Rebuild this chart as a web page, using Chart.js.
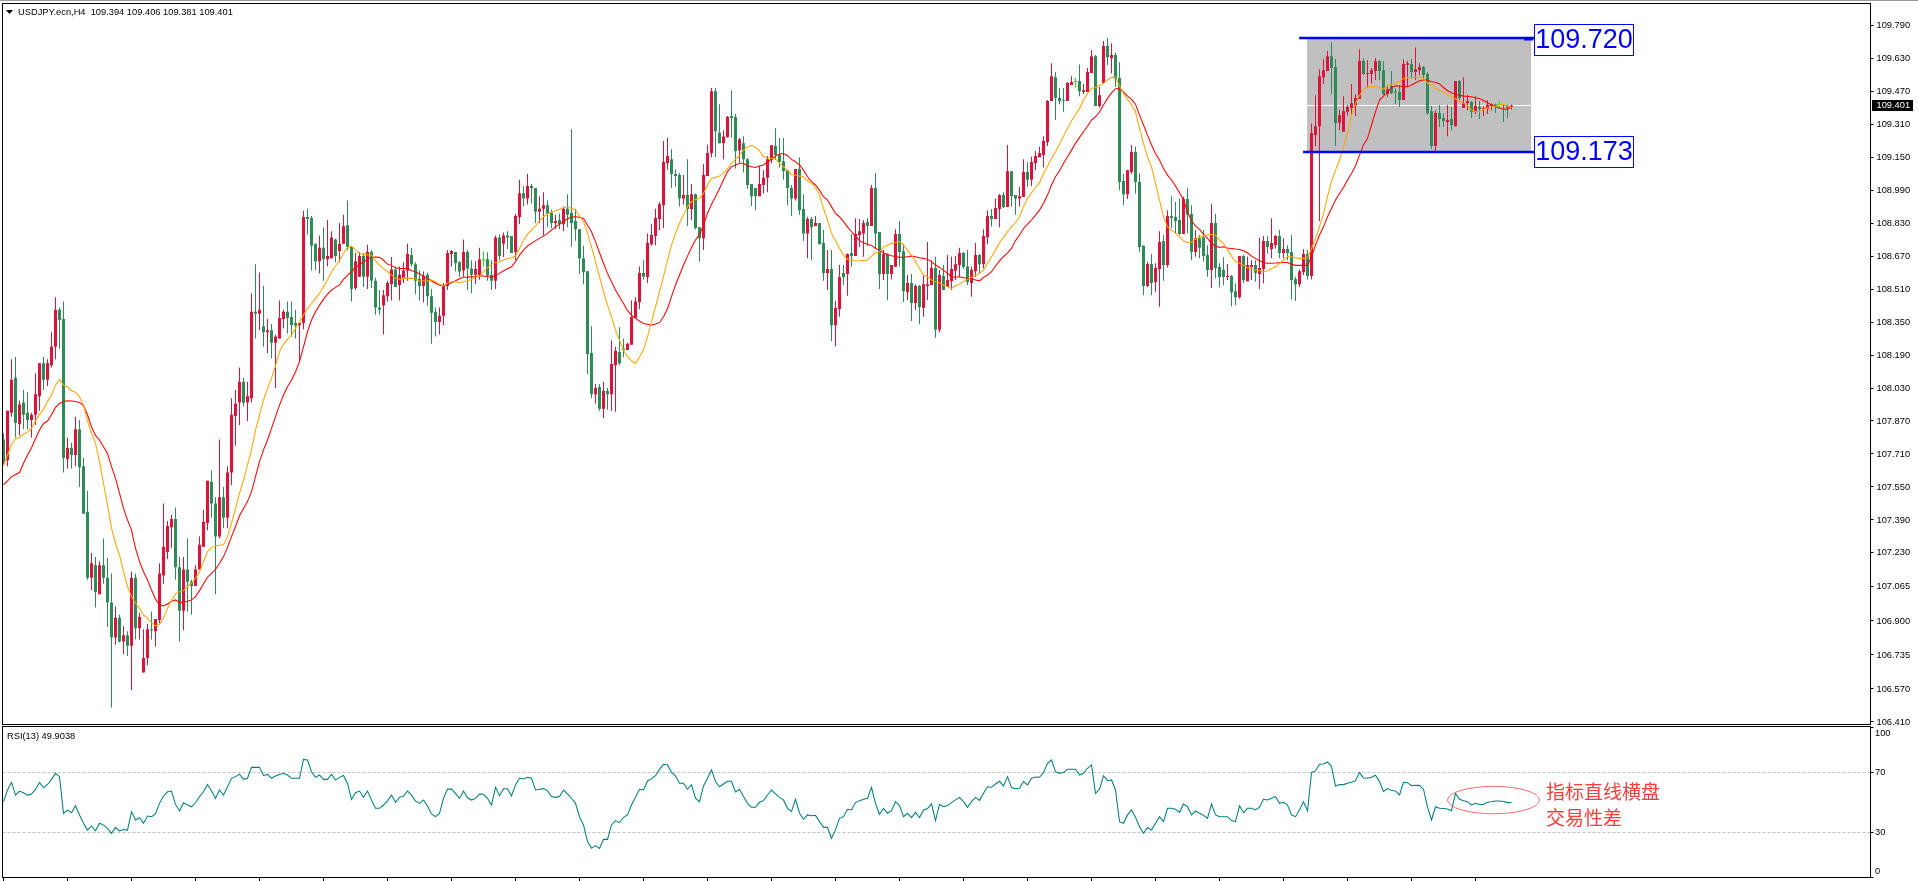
<!DOCTYPE html>
<html>
<head>
<meta charset="utf-8">
<title>USDJPY.ecn,H4</title>
<script src="https://cdn.jsdelivr.net/npm/chart.js@4"></script>
<style>
  html, body { margin: 0; background: #fff; overflow: hidden; }
  canvas { position: absolute; left: 0; }
  #priceChart { top: 0; }
  #rsiChart { top: 726px; }
</style>
</head>
<body>
<canvas id="priceChart" width="1918" height="735"></canvas>
<canvas id="rsiChart" width="1918" height="155"></canvas>
<script>
// values, one entry per H4 bar
const opens = [
107.78,107.68,107.91,108.08,107.855,107.96,107.91,107.875,107.90,107.99,
108.15,108.07,108.14,108.23,108.41,108.365,107.685,107.74,107.705,107.83,
107.65,107.43,107.11,107.17,107.03,107.17,107.11,106.99,106.82,106.915,
106.80,106.83,106.78,107.11,106.865,106.65,106.72,106.86,106.85,106.905,
107.12,107.235,107.355,107.395,107.16,106.95,107.15,107.09,107.07,107.15,
107.26,107.375,107.575,107.47,107.31,107.50,107.40,107.62,107.894,107.96,
108.06,107.96,107.98,108.40,108.39,108.33,108.30,108.31,108.25,108.27,
108.365,108.40,108.375,108.345,108.335,108.345,108.86,108.855,108.73,108.645,
108.71,108.655,108.66,108.75,108.695,108.73,108.82,108.715,108.515,108.57,
108.67,108.57,108.69,108.55,108.42,108.43,108.475,108.535,108.605,108.53,
108.565,108.60,108.675,108.63,108.56,108.525,108.58,108.475,108.40,108.35,
108.38,108.525,108.68,108.69,108.64,108.60,108.69,108.61,108.58,108.58,
108.65,108.655,108.58,108.55,108.76,108.73,108.77,108.767,108.69,108.86,
108.975,108.95,109.01,109.0,108.885,108.90,108.917,108.88,108.83,108.845,
108.825,108.90,108.88,108.84,108.80,108.66,108.597,108.20,108.0,108.035,
107.93,108.015,108.0,108.14,108.205,108.22,108.215,108.24,108.37,108.447,
108.588,108.568,108.728,108.767,108.85,108.917,109.12,109.14,109.068,109.063,
108.95,108.966,108.898,108.97,108.81,108.757,109.058,109.17,109.47,109.27,
109.218,109.247,109.35,109.345,109.185,109.218,109.14,109.02,109.0,108.96,
109.015,109.05,109.136,109.204,109.16,109.13,109.087,109.0,108.95,109.092,
108.898,108.78,108.85,108.816,108.83,108.733,108.588,108.607,108.335,108.413,
108.588,108.583,108.685,108.67,108.772,108.78,108.835,108.816,109.0,108.787,
108.583,108.68,108.583,108.618,108.777,108.694,108.495,108.54,108.442,108.525,
108.418,108.525,108.53,108.612,108.313,108.573,108.52,108.548,108.60,108.627,
108.685,108.62,108.54,108.597,108.675,108.63,108.762,108.864,108.85,108.898,
108.966,108.908,109.082,108.966,108.95,108.957,109.078,109.04,109.12,109.15,
109.16,109.223,109.422,109.538,109.437,109.427,109.422,109.50,109.514,109.519,
109.466,109.466,109.558,109.64,109.398,109.51,109.689,109.63,109.645,109.534,
109.034,108.97,109.078,109.175,109.03,108.72,108.525,108.632,108.544,108.607,
108.743,108.627,108.864,108.86,108.845,108.777,108.947,108.874,108.69,108.757,
108.762,108.675,108.602,108.83,108.617,108.602,108.568,108.573,108.50,108.47,
108.67,108.548,108.617,108.627,108.583,108.607,108.743,108.704,108.723,108.767,
108.685,108.704,108.69,108.558,108.534,108.592,108.68,108.573,109.257,109.30,
109.538,109.568,109.64,109.587,109.317,109.273,109.37,109.388,109.40,109.432,
109.616,109.553,109.553,109.568,109.616,109.572,109.456,109.495,109.466,109.466,
109.427,109.597,109.602,109.563,109.572,109.587,109.553,109.373,109.204,109.364,
109.34,109.32,109.335,109.30,109.519,109.388,109.412,109.417,109.369,109.393,
109.383,109.383,109.398,109.407,109.404,109.404,109.401,109.394];

const highs = [
107.81,107.92,108.17,108.18,107.97,108.02,108.01,107.91,108.10,108.15,
108.18,108.17,108.30,108.47,108.42,108.45,107.79,107.765,107.89,107.875,
107.69,107.53,107.23,107.21,107.19,107.30,107.205,107.13,106.97,106.93,
106.875,106.85,107.14,107.13,106.94,106.86,106.885,106.945,106.91,107.18,
107.47,107.385,107.415,107.45,107.21,107.21,107.30,107.10,107.17,107.31,
107.44,107.58,107.63,107.50,107.78,107.55,107.65,107.98,108.02,108.13,
108.08,108.06,108.49,108.63,108.59,108.525,108.365,108.34,108.29,108.455,
108.41,108.45,108.45,108.41,108.345,108.89,108.90,108.865,108.73,108.77,
108.81,108.845,108.79,108.755,108.83,108.87,108.94,108.715,108.685,108.69,
108.685,108.725,108.70,108.565,108.505,108.505,108.55,108.665,108.62,108.62,
108.64,108.73,108.71,108.64,108.60,108.595,108.59,108.51,108.42,108.42,
108.54,108.70,108.70,108.69,108.645,108.75,108.70,108.65,108.645,108.71,
108.694,108.69,108.65,108.77,108.775,108.785,108.79,108.767,108.875,109.04,
109.01,109.07,109.02,109.0,108.96,108.98,108.94,108.895,108.87,108.877,
108.91,108.97,109.285,108.90,108.80,108.72,108.597,108.33,108.05,108.05,
108.06,108.03,108.26,108.23,108.325,108.27,108.25,108.455,108.47,108.62,
108.65,108.78,108.825,108.90,108.932,109.228,109.243,109.19,109.09,109.073,
109.063,109.14,109.02,108.974,108.81,109.116,109.21,109.485,109.485,109.407,
109.28,109.35,109.475,109.36,109.243,109.252,109.146,109.02,109.0,109.107,
109.087,109.155,109.21,109.29,109.243,109.243,109.087,109.015,109.092,109.15,
108.97,108.86,108.86,108.864,108.83,108.796,108.70,108.70,108.452,108.627,
108.627,108.683,108.777,108.853,108.85,108.845,108.853,109.015,109.073,108.787,
108.70,108.683,108.627,108.80,108.84,108.73,108.578,108.583,108.534,108.53,
108.578,108.738,108.65,108.667,108.602,108.627,108.675,108.667,108.67,108.71,
108.69,108.70,108.62,108.733,108.68,108.80,108.893,108.898,108.95,108.97,
108.98,109.209,109.083,108.966,109.006,109.14,109.125,109.152,109.18,109.20,
109.252,109.427,109.606,109.563,109.485,109.485,109.514,109.543,109.534,109.60,
109.505,109.582,109.67,109.645,109.49,109.713,109.728,109.703,109.656,109.61,
109.068,109.087,109.209,109.20,109.073,108.722,108.643,108.68,108.635,108.79,
108.772,108.893,108.96,108.932,108.95,108.958,109.0,108.917,108.796,108.772,
108.796,108.723,108.922,108.874,108.635,108.664,108.632,108.578,108.538,108.67,
108.675,108.667,108.65,108.65,108.76,108.767,108.767,108.854,108.772,108.796,
108.756,108.723,108.772,108.57,108.605,108.704,108.70,109.313,109.45,109.577,
109.626,109.665,109.708,109.626,109.38,109.446,109.403,109.505,109.456,109.674,
109.63,109.62,109.582,109.63,109.62,109.616,109.50,109.568,109.483,109.50,
109.624,109.616,109.626,109.682,109.605,109.592,109.563,109.398,109.378,109.403,
109.362,109.403,109.393,109.519,109.524,109.538,109.451,109.422,109.446,109.422,
109.398,109.427,109.41,109.41,109.424,109.407,109.403,109.406];

const lows = [
107.66,107.65,107.89,107.79,107.80,107.83,107.83,107.79,107.85,107.92,
108.02,108.04,108.13,108.17,108.22,107.62,107.64,107.64,107.65,107.55,
107.42,107.10,107.05,106.965,107.03,107.08,106.87,106.48,106.785,106.795,
106.74,106.73,106.565,106.81,106.81,106.65,106.685,106.81,106.775,106.89,
107.08,107.20,107.255,107.10,106.80,106.855,106.945,106.93,107.07,107.15,
107.26,107.34,107.40,107.03,107.30,107.35,107.35,107.56,107.75,107.85,
107.94,107.87,107.96,108.27,108.31,108.23,108.20,108.175,108.03,108.27,
108.32,108.295,108.28,108.27,108.155,108.315,108.775,108.60,108.60,108.585,
108.55,108.62,108.66,108.64,108.64,108.73,108.70,108.45,108.505,108.57,
108.52,108.51,108.515,108.385,108.385,108.29,108.45,108.455,108.52,108.455,
108.54,108.55,108.62,108.485,108.455,108.445,108.43,108.245,108.28,108.29,
108.335,108.505,108.62,108.595,108.57,108.57,108.505,108.49,108.535,108.555,
108.62,108.55,108.505,108.51,108.65,108.665,108.705,108.685,108.65,108.825,
108.91,108.92,108.925,108.83,108.83,108.77,108.81,108.805,108.80,108.80,
108.79,108.81,108.715,108.745,108.583,108.534,108.098,107.98,107.955,107.92,
107.885,107.925,107.92,107.915,108.14,108.18,108.215,108.24,108.37,108.413,
108.557,108.54,108.72,108.723,108.796,108.806,109.09,109.0,109.006,108.91,
108.92,108.816,108.845,108.80,108.643,108.70,109.058,109.15,109.15,109.218,
109.14,109.247,109.245,109.095,109.124,109.075,108.997,108.913,108.893,108.96,
108.974,108.98,109.12,109.136,109.10,109.04,108.917,108.864,108.94,108.87,
108.743,108.66,108.65,108.816,108.728,108.55,108.505,108.258,108.233,108.376,
108.53,108.478,108.618,108.67,108.715,108.667,108.72,108.816,108.707,108.51,
108.554,108.457,108.557,108.618,108.62,108.447,108.457,108.355,108.408,108.34,
108.376,108.457,108.53,108.274,108.30,108.505,108.52,108.505,108.554,108.57,
108.607,108.53,108.473,108.57,108.583,108.61,108.728,108.813,108.85,108.81,
108.903,108.908,108.91,108.87,108.91,108.957,109.006,109.01,109.087,109.15,
109.10,109.204,109.422,109.33,109.407,109.37,109.422,109.50,109.488,109.446,
109.456,109.466,109.558,109.398,109.39,109.51,109.597,109.556,109.49,108.99,
108.917,108.947,109.068,108.974,108.69,108.48,108.52,108.48,108.497,108.424,
108.55,108.615,108.806,108.78,108.772,108.777,108.78,108.65,108.667,108.659,
108.643,108.57,108.515,108.562,108.518,108.53,108.554,108.427,108.432,108.463,
108.54,108.548,108.554,108.546,108.51,108.538,108.683,108.659,108.707,108.659,
108.659,108.65,108.46,108.452,108.52,108.578,108.557,108.557,109.204,108.84,
109.505,109.568,109.456,109.204,109.28,109.273,109.352,109.35,109.35,109.432,
109.548,109.488,109.508,109.524,109.524,109.45,109.443,109.456,109.407,109.393,
109.427,109.495,109.532,109.524,109.548,109.532,109.354,109.19,109.176,109.298,
109.296,109.252,109.281,109.30,109.42,109.388,109.378,109.34,109.359,109.335,
109.35,109.359,109.378,109.364,109.386,109.32,109.34,109.381];

const closes = [
107.67,107.92,108.07,107.86,107.95,107.90,107.875,107.90,108.0,108.15,
108.07,108.15,108.23,108.41,108.36,107.69,107.74,107.705,107.83,107.645,
107.42,107.11,107.18,107.04,107.17,107.11,106.99,106.82,106.915,106.80,
106.83,106.78,107.11,106.865,106.92,106.72,106.86,106.855,106.91,107.13,
107.26,107.36,107.395,107.16,106.95,107.15,107.09,107.07,107.15,107.27,
107.38,107.58,107.47,107.31,107.50,107.40,107.62,107.90,107.955,108.06,
107.96,107.99,108.40,108.39,108.41,108.30,108.31,108.25,108.28,108.37,
108.40,108.37,108.335,108.335,108.345,108.86,108.85,108.72,108.645,108.71,
108.655,108.67,108.76,108.67,108.73,108.815,108.715,108.51,108.645,108.67,
108.57,108.69,108.55,108.42,108.41,108.48,108.54,108.605,108.52,108.58,
108.60,108.68,108.63,108.55,108.525,108.575,108.475,108.395,108.35,108.38,
108.525,108.685,108.695,108.635,108.595,108.69,108.61,108.58,108.607,108.655,
108.65,108.575,108.55,108.76,108.67,108.77,108.76,108.685,108.865,108.975,
108.95,109.01,109.0,108.885,108.90,108.917,108.877,108.83,108.84,108.825,
108.90,108.87,108.83,108.80,108.66,108.592,108.195,108.0,108.03,107.93,
108.015,108.0,108.146,108.21,108.15,108.215,108.245,108.374,108.45,108.588,
108.57,108.733,108.772,108.855,108.922,109.126,109.155,109.068,109.058,108.95,
108.966,108.898,108.97,108.806,108.757,109.063,109.17,109.47,109.276,109.218,
109.25,109.345,109.34,109.18,109.237,109.14,109.015,108.96,108.96,109.02,
109.05,109.14,109.208,109.16,109.126,109.082,109.0,108.95,109.092,108.893,
108.78,108.85,108.81,108.83,108.728,108.588,108.607,108.335,108.418,108.568,
108.568,108.68,108.67,108.777,108.79,108.83,108.816,109.0,108.78,108.583,
108.68,108.583,108.627,108.777,108.69,108.50,108.54,108.442,108.525,108.423,
108.534,108.534,108.612,108.313,108.578,108.505,108.554,108.607,108.63,108.685,
108.617,108.544,108.602,108.675,108.63,108.767,108.864,108.85,108.903,108.966,
108.908,109.082,108.96,108.95,108.96,109.078,109.04,109.126,109.155,109.17,
109.228,109.422,109.543,109.437,109.422,109.424,109.51,109.514,109.514,109.47,
109.475,109.563,109.64,109.398,109.45,109.689,109.635,109.645,109.53,109.03,
108.97,109.087,109.175,109.03,108.714,108.525,108.632,108.54,108.612,108.738,
108.627,108.864,108.855,108.84,108.777,108.947,108.87,108.69,108.757,108.71,
108.67,108.602,108.83,108.612,108.568,108.568,108.573,108.495,108.47,108.67,
108.554,108.627,108.627,108.588,108.612,108.743,108.714,108.733,108.767,108.685,
108.704,108.685,108.554,108.534,108.597,108.68,108.573,109.267,109.30,109.543,
109.572,109.64,109.582,109.315,109.354,109.373,109.393,109.412,109.437,109.616,
109.553,109.556,109.572,109.616,109.568,109.456,109.48,109.46,109.464,109.427,
109.602,109.606,109.563,109.577,109.587,109.548,109.364,109.204,109.364,109.335,
109.325,109.33,109.306,109.519,109.437,109.412,109.422,109.369,109.398,109.383,
109.388,109.403,109.407,109.398,109.404,109.401,109.39,109.401];

// orange moving average
const fastMa = [
107.652,107.705,107.754,107.784,107.79,107.807,107.816,107.834,107.871,107.902,
107.926,107.964,107.996,108.044,108.072,108.044,108.036,108.017,108.01,107.988,
107.947,107.871,107.81,107.762,107.673,107.568,107.463,107.35,107.277,107.22,
107.139,107.067,107.018,106.986,106.961,106.929,106.913,106.892,106.876,106.884,
106.913,106.961,106.999,107.031,107.042,107.047,107.067,107.083,107.107,107.139,
107.188,107.236,107.257,107.264,107.267,107.27,107.309,107.374,107.446,107.519,
107.584,107.657,107.729,107.826,107.899,107.972,108.028,108.077,108.137,108.206,
108.242,108.266,108.287,108.319,108.352,108.384,108.416,108.44,108.465,108.489,
108.521,108.554,108.594,108.622,108.647,108.683,108.712,108.719,108.699,108.683,
108.678,108.677,108.675,108.647,108.626,108.61,108.594,108.578,108.562,108.557,
108.562,108.562,108.562,108.56,108.549,108.549,108.55,108.554,108.546,108.533,
108.525,108.538,108.546,108.546,108.541,108.546,108.55,108.557,108.567,108.573,
108.594,108.615,108.63,108.639,108.643,108.651,108.657,108.662,108.67,108.707,
108.748,108.775,108.796,108.816,108.841,108.861,108.874,108.884,108.89,108.897,
108.906,108.906,108.903,108.893,108.864,108.837,108.78,108.715,108.643,108.57,
108.497,108.432,108.376,108.311,108.263,108.214,108.182,108.162,108.149,108.182,
108.214,108.279,108.352,108.424,108.497,108.57,108.651,108.723,108.78,108.829,
108.869,108.91,108.934,108.945,108.95,108.974,109.015,109.047,109.052,109.058,
109.071,109.095,109.12,109.139,109.16,109.184,109.20,109.207,109.197,109.181,
109.152,109.146,109.144,109.141,109.12,109.103,109.087,109.065,109.063,109.058,
109.055,109.034,109.023,109.003,108.966,108.901,108.845,108.78,108.744,108.707,
108.675,108.654,108.651,108.646,108.647,108.649,108.651,108.67,108.686,108.691,
108.715,108.723,108.732,108.736,108.74,108.723,108.699,108.675,108.643,108.61,
108.578,108.57,108.554,108.546,108.541,108.529,108.521,108.513,108.526,108.534,
108.546,108.557,108.567,108.576,108.586,108.602,108.635,108.667,108.699,108.735,
108.761,108.788,108.812,108.833,108.861,108.91,108.95,108.977,109.003,109.026,
109.071,109.107,109.144,109.176,109.212,109.252,109.29,109.327,109.357,109.386,
109.427,109.459,109.483,109.488,109.498,109.508,109.524,109.537,109.537,109.495,
109.459,109.43,109.403,109.37,109.29,109.217,109.152,109.103,109.023,108.942,
108.861,108.812,108.796,108.78,108.764,108.744,108.735,108.738,108.753,108.761,
108.769,108.772,108.775,108.772,108.748,108.732,108.699,108.67,108.643,108.635,
108.626,108.613,108.609,108.602,108.599,108.594,108.599,108.61,108.618,108.635,
108.651,108.667,108.667,108.662,108.659,108.659,108.662,108.707,108.756,108.812,
108.877,108.958,109.031,109.087,109.136,109.20,109.265,109.354,109.411,109.45,
109.479,109.492,109.492,109.492,109.488,109.479,109.495,109.504,109.508,109.516,
109.532,109.537,109.535,109.537,109.537,109.532,109.508,109.50,109.484,109.476,
109.466,109.454,109.443,109.432,109.424,109.411,109.401,109.378,109.372,109.37,
109.382,109.388,109.393,109.398,109.404,109.407,109.398,109.391];

// red moving average
const slowMa = [
107.56,107.58,107.60,107.61,107.62,107.665,107.705,107.74,107.785,107.826,
107.858,107.87,107.90,107.936,107.955,107.965,107.968,107.967,107.965,107.96,
107.945,107.90,107.842,107.80,107.778,107.745,107.713,107.649,107.592,107.52,
107.446,107.39,107.341,107.252,107.188,107.139,107.099,107.05,107.005,106.978,
106.973,106.982,106.995,107.002,106.99,106.989,106.995,107.002,107.018,107.047,
107.08,107.112,107.131,107.15,107.18,107.212,107.257,107.309,107.358,107.41,
107.446,107.479,107.527,107.60,107.673,107.73,107.778,107.834,107.891,107.947,
107.996,108.036,108.069,108.109,108.158,108.23,108.303,108.36,108.40,108.432,
108.46,108.486,108.505,108.518,108.53,108.557,108.578,108.594,108.618,108.627,
108.643,108.654,108.664,108.665,108.664,108.65,108.631,108.625,108.613,108.61,
108.61,108.61,108.599,108.594,108.583,108.573,108.562,108.549,108.538,108.528,
108.525,108.533,108.541,108.55,108.56,108.567,108.568,108.57,108.57,108.575,
108.573,108.57,108.567,108.576,108.586,108.599,108.609,108.618,108.643,108.675,
108.699,108.719,108.732,108.745,108.756,108.767,108.78,108.796,108.812,108.825,
108.838,108.851,108.859,108.861,108.858,108.853,108.82,108.788,108.74,108.686,
108.635,108.586,108.546,108.505,108.473,108.44,108.405,108.384,108.368,108.355,
108.343,108.339,108.335,108.34,108.347,108.376,108.416,108.473,108.53,108.578,
108.627,108.67,108.712,108.748,108.775,108.82,108.877,108.922,108.958,108.998,
109.039,109.08,109.103,109.112,109.12,109.12,109.108,109.103,109.10,109.107,
109.112,109.128,109.139,109.155,109.165,109.168,109.157,109.139,109.128,109.112,
109.087,109.055,109.031,109.015,108.99,108.958,108.942,108.91,108.877,108.861,
108.837,108.812,108.788,108.767,108.745,108.735,108.728,108.722,108.707,108.699,
108.686,108.678,108.672,108.667,108.665,108.664,108.667,108.67,108.667,108.662,
108.659,108.654,108.643,108.627,108.615,108.602,108.586,108.57,108.567,108.57,
108.565,108.563,108.56,108.554,108.55,108.567,108.578,108.594,108.622,108.647,
108.667,108.686,108.707,108.745,108.772,108.804,108.825,108.845,108.869,108.893,
108.926,108.966,109.015,109.055,109.084,109.12,109.152,109.184,109.217,109.246,
109.273,109.30,109.33,109.346,109.369,109.403,109.435,109.462,109.482,109.483,
109.467,109.446,109.43,109.407,109.354,109.306,109.257,109.209,109.168,109.136,
109.095,109.063,109.039,109.01,108.977,108.942,108.885,108.841,108.816,108.80,
108.777,108.756,108.732,108.719,108.712,108.715,108.709,108.707,108.704,108.702,
108.696,108.686,108.67,108.659,108.647,108.638,108.635,108.635,108.636,108.638,
108.639,108.639,108.63,108.625,108.625,108.626,108.626,108.667,108.723,108.772,
108.812,108.861,108.901,108.942,108.974,109.003,109.039,109.071,109.107,109.16,
109.209,109.241,109.306,109.37,109.427,109.446,109.464,109.488,109.496,109.495,
109.492,109.492,109.50,109.511,109.521,109.524,109.524,109.516,109.513,109.505,
109.488,109.472,109.462,109.454,109.45,109.446,109.445,109.443,109.438,109.435,
109.425,109.414,109.403,109.395,109.388,109.382,109.383,109.395];

const rsiValues = [
50.4,58.2,63.3,54.8,57.5,56.4,54.8,55.5,58.6,63.3,
59.7,61.9,65.3,69.3,67.1,42.6,44.8,43.1,47.7,41.5,
36,31.5,34.2,31,36,34.8,32.6,29.3,33.3,31,
31.9,31.5,43.7,38.2,39.7,36,40.8,40.4,42.2,49.3,
54.2,57,57.5,48.6,44.2,49.7,48.2,47,49.7,53.7,
57,61.9,57.7,52.6,58.2,54.8,60.4,66,67.1,68.8,
65.3,66,73.3,73.3,73.3,67.9,68.6,66,67.5,68.6,
69.3,68.2,66,66,66,78.6,78.2,70.4,66.6,68.2,
65.3,65.3,68.6,64.8,66.6,67.9,62.6,51.9,56.4,57.5,
53.3,57.5,51.5,46,46,48.2,51,54.8,50,53.3,
54.2,57.5,54.8,50.8,49.3,51.5,47.5,42.2,40.4,42.6,
52.6,58.8,58.8,55.9,52.6,57.5,53,51.5,52.6,55.5,
55.3,52.7,48.2,60,54.4,59.1,59.1,54.2,61.6,66,
65.6,66.7,66,58.2,58.7,59.1,57.6,53.8,53.3,53.8,
58.2,55.6,52.7,49.3,40.4,34.9,23.8,19.3,21.1,19.3,
25.3,25.3,34.9,37.8,36.4,40,41.6,48.2,53.3,58.7,
58.2,64.2,65.6,67.8,72,75.3,74.9,70,67.6,62.7,
62.7,58.7,61.6,52.7,50.4,
60.9,66,71.6,63.8,60.4,62.2,64,64,56.9,58.7,
53.8,49.3,46.7,46.7,50,51.1,54.9,58.2,55.6,53.3,
51.6,46,43.8,52,42.7,38.7,41.6,41.1,41.3,37.1,
33.3,33.3,26,31.6,39.3,40.4,45.3,44.9,49.8,51.1,
52,52.7,60,49.3,42,46,42.7,44.4,50.4,47.8,
40.4,42.7,39.8,43.3,39.8,44.9,45.8,48.9,37.8,48.7,
47.1,47.8,49.8,51.6,53.3,50.4,46.7,50.4,53.3,51.3,
56,60.4,60,62.2,64,60.9,67.1,59.8,59.1,59.3,
63.8,61.6,66,66.9,66.7,69.8,76,78.2,70.4,69.3,
69.8,72,72,72,68.2,69.3,72.7,74.9,56,58.7,
67.6,64.4,64.9,58.2,37.1,36,41.6,44.9,40,33.8,
29.3,33.3,31.6,36,40.4,37.1,46,46,45.3,43.3,
48.9,47.1,41.6,44.2,42.7,41.3,39.3,48.9,41.6,40.4,
40.4,40.4,37.8,37.1,47.6,43.1,46,46,44.9,46.7,
52,51.6,52.7,53.8,49.3,50,48.2,41.6,40.4,44.9,
50.4,44.4,69.8,70.9,75.3,75.6,76.9,73.8,60.9,61.8,
61.8,62.7,63.3,64.4,69.8,66.2,66,66.7,68,63.8,
57.3,59.1,57.8,57.6,54.9,
63.3,63.1,61.1,61.3,61.3,58.6,47,38.2,47,46,
45.8,45.5,44.4,56,52,51.1,50.4,48.2,49.3,48.6,
48.6,50,50.4,50.9,50.9,50.6,49.8,49.9];

const priceTicks = [109.79,109.63,109.47,109.31,109.15,108.99,108.83,108.67,108.51,108.35,108.19,
  108.03,107.87,107.71,107.55,107.39,107.23,107.065,106.9,106.735,106.57,106.41];
const rsiTicks = [100,70,30,0];
const timeTicks = [0,16,32,48,64,80,96,112,128,144,160,176,192,208,224,240,256,272,288,304,320,336,352,368];

const rangeLevels = [109.728, 109.175];  // blue lines
const rangeLabels = ['109.720', '109.173'];
const bidPrice = 109.401;
const headerText = 'USDJPY.ecn,H4  109.394 109.406 109.381 109.401';
const rsiHeader = 'RSI(13) 49.9038';
const noteLines = ['指标直线横盘', '交易性差'];

const axisFont = '9.3px "Liberation Sans", sans-serif';
const upColor = '#dc143c', downColor = '#2e8b57', dojiColor = '#00ff00';

function candleColor(i) {
  if (closes[i] > opens[i]) return upColor;
  if (closes[i] < opens[i]) return downColor;
  return dojiColor;
}
const asPoints = values => values.map((v, i) => ({ x: i, y: v }));

// x scale shared by both panels: 4 px per bar
const xBase = { type: 'linear', min: -0.25, max: 466.75, offset: false };

const priceDrawings = {
  id: 'priceDrawings',
  beforeDatasetsDraw(chart) {
    const { ctx, scales: { x, y }, chartArea } = chart;
    ctx.save();
    // grey consolidation box
    ctx.fillStyle = '#c0c0c0';
    ctx.fillRect(x.getPixelForValue(325.9), y.getPixelForValue(rangeLevels[0]),
      x.getPixelForValue(381.9) - x.getPixelForValue(325.9),
      y.getPixelForValue(rangeLevels[1]) - y.getPixelForValue(rangeLevels[0]));
    // bid line is white, it only shows on the box
    ctx.fillStyle = '#fff';
    ctx.fillRect(chartArea.left, Math.floor(y.getPixelForValue(bidPrice)), chartArea.width, 1);
    ctx.restore();
  },
  afterDraw(chart) {
    const { ctx, scales: { x, y } } = chart;
    ctx.save();
    // blue range lines
    ctx.fillStyle = '#0000ff';
    const startBars = [323.9, 324.9];
    rangeLevels.forEach((lv, n) => {
      const py = Math.round(y.getPixelForValue(lv));
      ctx.fillRect(x.getPixelForValue(startBars[n]), py - 1.25, x.getPixelForValue(382.9) - x.getPixelForValue(startBars[n]), 2.5);
    });
    ctx.fillRect(1524, 38, 9, 2.5);
    // labels of the range
    const boxTops = [24, 136];
    ctx.textBaseline = 'middle';
    rangeLabels.forEach((t, n) => {
      ctx.fillStyle = '#fff';
      ctx.fillRect(1534, boxTops[n], 100, 32);
      ctx.strokeStyle = '#0000ff';
      ctx.lineWidth = 1;
      ctx.strokeRect(1534.5, boxTops[n] + 0.5, 99, 31);
      ctx.fillStyle = '#0000ff';
      ctx.font = '27px "Liberation Sans", sans-serif';
      ctx.textAlign = 'center';
      ctx.fillText(t, 1584, boxTops[n] + 17);
    });
    // frame
    ctx.fillStyle = '#9a9a9a';
    ctx.fillRect(0, 0, 1918, 1);
    ctx.strokeStyle = '#000';
    ctx.strokeRect(2.5, 3.5, 1868, 721);
    // current price tag
    const bidY = y.getPixelForValue(bidPrice);
    ctx.fillStyle = '#000';
    ctx.fillRect(1872, Math.round(bidY) - 5, 41, 11);
    ctx.fillStyle = '#fff';
    ctx.textAlign = 'left';
    ctx.font = axisFont;
    ctx.fillText(bidPrice.toFixed(3), 1876.5, bidY + 0.5);
    // header
    ctx.fillStyle = '#000';
    ctx.beginPath();
    ctx.moveTo(6, 10);
    ctx.lineTo(13, 10);
    ctx.lineTo(9.5, 14);
    ctx.closePath();
    ctx.fill();
    ctx.fillText(headerText, 18, 12);
    ctx.restore();
  }
};

new Chart(document.getElementById('priceChart'), {
  type: 'bar',
  data: {
    datasets: [
      { type: 'line', data: asPoints(fastMa), borderColor: '#ffa500', borderWidth: 1.05, pointRadius: 0, tension: 0, order: 0 },
      { type: 'line', data: asPoints(slowMa), borderColor: '#ff0000', borderWidth: 1.05, pointRadius: 0, tension: 0, order: 1 },
      { data: opens.map((o, i) => ({ x: i, y: [o, closes[i]] })), backgroundColor: c => candleColor(c.dataIndex),
        barThickness: 3, minBarLength: 1, grouped: false, inflateAmount: 0, order: 2 },
      { data: lows.map((l, i) => ({ x: i, y: [l, highs[i]] })), backgroundColor: c => candleColor(c.dataIndex),
        barThickness: 1, grouped: false, inflateAmount: 0, order: 3 }
    ]
  },
  options: {
    responsive: false,
    animation: false,
    devicePixelRatio: 1,
    events: [],
    layout: { padding: { top: 4, left: 2.5, right: 0, bottom: 11 } },
    plugins: { legend: { display: false }, tooltip: { enabled: false } },
    scales: {
      x: { ...xBase, display: false },
      y: {
        position: 'right',
        min: 106.4,
        max: 109.893,
        afterBuildTicks: axis => { axis.ticks = priceTicks.map(v => ({ value: v })); },
        afterFit: axis => { axis.width = 47.5; axis.paddingTop = 0; axis.paddingBottom = 0; },
        grid: { drawOnChartArea: false, tickLength: 3, tickColor: '#000' },
        border: { display: false },
        ticks: {
          autoSkip: false, padding: 3, color: '#000',
          font: { family: '"Liberation Sans", sans-serif', size: 9.3 },
          callback: v => v.toFixed(3)
        }
      }
    }
  },
  plugins: [priceDrawings]
});

const rsiDrawings = {
  id: 'rsiDrawings',
  afterDraw(chart) {
    const { ctx, scales: { x, y } } = chart;
    ctx.save();
    ctx.strokeStyle = '#000';
    ctx.lineWidth = 1;
    ctx.strokeRect(2.5, 0.5, 1868, 151);
    // axis labels, the end ones sit inside the panel
    ctx.font = axisFont;
    ctx.fillStyle = '#000';
    ctx.textBaseline = 'middle';
    ctx.textAlign = 'left';
    rsiTicks.forEach(v => {
      const shift = v === 100 ? 6 : v === 0 ? -6 : 0;
      ctx.fillText(String(v), 1875, y.getPixelForValue(v) + shift);
    });
    ctx.fillText(rsiHeader, 7, 10);
    // ellipse around the flat part of the RSI
    ctx.strokeStyle = '#ff6a6a';
    ctx.beginPath();
    ctx.ellipse(x.getPixelForValue(372.5), y.getPixelForValue(51.5), 46, 13.7, 0, 0, Math.PI * 2);
    ctx.stroke();
    // note
    ctx.fillStyle = '#ff3b3b';
    ctx.font = '19px "Noto Sans CJK SC", sans-serif';
    ctx.fillText(noteLines[0], 1546, 66);
    ctx.fillText(noteLines[1], 1546, 92);
    ctx.restore();
  }
};

new Chart(document.getElementById('rsiChart'), {
  type: 'line',
  data: {
    datasets: [
      { data: asPoints(rsiValues), borderColor: '#007f7f', borderWidth: 1.05, pointRadius: 0, tension: 0 }
    ]
  },
  options: {
    responsive: false,
    animation: false,
    devicePixelRatio: 1,
    events: [],
    layout: { padding: { top: 1.3, left: 2.5, right: 0, bottom: 0 } },
    plugins: { legend: { display: false }, tooltip: { enabled: false } },
    scales: {
      x: {
        ...xBase,
        afterBuildTicks: axis => { axis.ticks = timeTicks.map(v => ({ value: v })); },
        afterFit: axis => { axis.height = 3.7; axis.paddingLeft = 0; axis.paddingRight = 0; },
        grid: { drawOnChartArea: false, tickLength: 4, tickColor: '#000' },
        border: { display: false },
        ticks: { display: false, autoSkip: false }
      },
      y: {
        position: 'right',
        min: 0,
        max: 100,
        afterBuildTicks: axis => { axis.ticks = rsiTicks.map(v => ({ value: v })); },
        afterFit: axis => { axis.width = 47.5; axis.paddingTop = 0; axis.paddingBottom = 0; },
        grid: {
          color: c => (c.tick && (c.tick.value === 70 || c.tick.value === 30)) ? '#c0c0c0' : 'rgba(0,0,0,0)',
          tickLength: 3, tickColor: '#000'
        },
        border: { display: false, dash: [3, 2] },
        ticks: { display: false }
      }
    }
  },
  plugins: [rsiDrawings]
});
</script>
</body>
</html>
